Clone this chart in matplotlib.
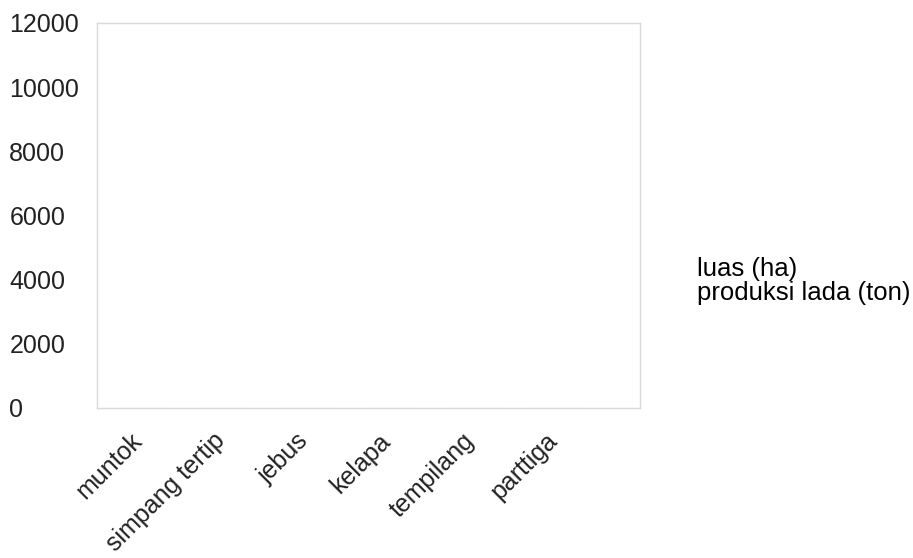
import matplotlib
matplotlib.use("Agg")
import matplotlib.pyplot as plt
import matplotlib.transforms as mtransforms
import numpy as np

plt.rcParams['font.family'] = ['Liberation Sans', 'DejaVu Sans']

# data (bars sit at zero)
kecamatan = ["muntok", "simpang tertip", "jebus", "kelapa", "tempilang", "parttiga"]
luas_ha = [0, 0, 0, 0, 0, 0]
produksi_ton = [0, 0, 0, 0, 0, 0]
y_ticks = [0, 2000, 4000, 6000, 8000, 10000, 12000]

fig = plt.figure(figsize=(9.13, 5.58), dpi=100)
ax = fig.add_axes([0.106, 0.269, 0.595, 0.690])

x = np.arange(len(kecamatan))
w = 0.3
ax.bar(x - w / 2, luas_ha, w, color="#4472c4", edgecolor="#cccccc", linewidth=0.8, label="luas (ha)")
ax.bar(x + w / 2, produksi_ton, w, color="#ed7d31", edgecolor="#cccccc", linewidth=0.8, label="produksi lada (ton)")

ax.set_ylim(0, 12000)
ax.set_xlim(-0.54, 6.0)
ax.set_yticks(y_ticks)
ax.set_yticklabels([str(v) for v in y_ticks], ha="left", fontsize=18, color="#222222")
ax.tick_params(axis="y", length=0, pad=63)
ax.set_xticks(x)
ax.set_xticklabels(kecamatan, rotation=45, ha="right", rotation_mode="anchor",
                   fontsize=18, color="#222222")
ax.tick_params(axis="x", length=0, pad=15)
shift = mtransforms.ScaledTranslation(-12 / 100, 0, fig.dpi_scale_trans)
for lbl in ax.get_xticklabels():
    lbl.set_transform(lbl.get_transform() + shift)

for s in ax.spines.values():
    s.set_color("#d9d9d9")
    s.set_linewidth(1)

leg = ax.legend(loc="center left", bbox_to_anchor=(1.082, 0.33), frameon=False,
                fontsize=18.5, handlelength=0, handletextpad=0, labelspacing=0,
                borderpad=0)
for h in leg.legend_handles:
    h.set_visible(False)

fig.savefig("out.png", dpi=100)
